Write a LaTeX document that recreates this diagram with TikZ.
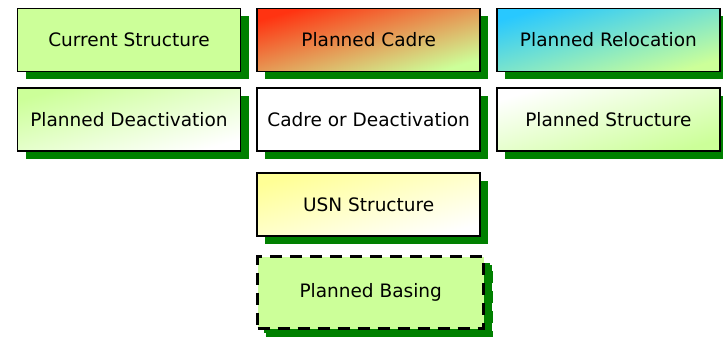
\documentclass[tikz,border=0pt]{standalone}
\usepackage{fontspec}
\setmainfont{DejaVu Sans}
\usetikzlibrary{positioning,shadows}
\definecolor{lgreen}{RGB}{204,255,153}
\definecolor{sgreen}{RGB}{0,128,0}
\definecolor{cadred}{RGB}{255,51,17}
\definecolor{relblue}{RGB}{40,200,255}
\definecolor{usnyel}{RGB}{255,255,150}

\begin{document}
\begin{tikzpicture}[node distance=15pt and 15pt]

\tikzstyle{bx} = [rectangle, minimum width=223pt, minimum height=63pt, text centered, draw=black, line width=1.7pt, font=\fontsize{18.5}{22}\selectfont]
\tikzstyle{shd} = [general shadow={fill=sgreen, shadow xshift=8pt, shadow yshift=-8pt}]
\tikzstyle{dshd} = [general shadow={fill=sgreen, draw=sgreen, line width=3.5pt, dash pattern=on 12pt off 8pt, shadow xshift=8pt, shadow yshift=-8pt}]
\tikzstyle{diag} = [shading angle=16]
\useasboundingbox (0,0) rectangle (723pt,-337pt);
\node (cur) [bx, shd, fill=lgreen] at (129pt,-40pt) {Current Structure};
\node (cadre) [bx, shd, top color=cadred, bottom color=lgreen, diag, right=of cur] {Planned Cadre};
\node (reloc) [bx, shd, top color=relblue, bottom color=lgreen, diag, right=of cadre] {Planned Relocation};
\node (deact) [bx, shd, top color=lgreen, bottom color=white, diag, below=of cur] {Planned Deactivation};
\node (cadredeact) [bx, shd, fill=white, below=of cadre] {Cadre or Deactivation};
\node (plan) [bx, shd, top color=white, bottom color=lgreen, diag, below=of reloc] {Planned Structure};
\node (usn) [bx, shd, top color=usnyel, bottom color=white, diag, below=20pt of cadredeact] {USN Structure};
\node (basing) [bx, dshd, fill=lgreen, minimum width=226pt, minimum height=72pt, line width=3.5pt, dash pattern=on 12pt off 8pt, below=18pt of usn, xshift=2pt] {Planned Basing};
\end{tikzpicture}
\end{document}
